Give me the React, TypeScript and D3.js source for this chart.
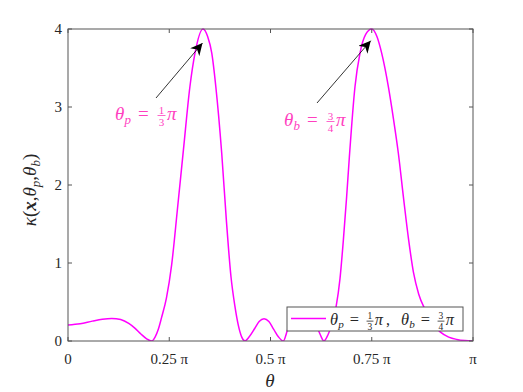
import React from 'react';
import * as d3 from 'd3';

// theta in units of pi, kappa values
const thetaPi = [
  0, 0.03, 0.06, 0.085, 0.108, 0.13, 0.15, 0.165, 0.18, 0.195, 0.2067,
  0.215, 0.223, 0.231, 0.243, 0.256, 0.27, 0.285, 0.301, 0.3136, 0.3333,
  0.345, 0.355, 0.365, 0.3795, 0.391, 0.4025, 0.412, 0.4206, 0.429, 0.437,
  0.447, 0.461, 0.472, 0.484, 0.496, 0.508, 0.52, 0.5316,
  0.542, 0.556, 0.582, 0.606, 0.614, 0.623, 0.632,
  0.642, 0.652, 0.662, 0.6716, 0.68, 0.688, 0.6946, 0.7086, 0.721, 0.735, 0.75,
  0.763, 0.7745, 0.791, 0.8035, 0.8156, 0.829, 0.841, 0.853, 0.866, 0.884, 0.9,
  0.918, 0.94, 0.96, 0.98, 1,
];
const kappa = [
  0.205, 0.22, 0.255, 0.28, 0.29, 0.275, 0.225, 0.165, 0.09, 0.025, 0,
  0.05, 0.15, 0.3, 0.55, 0.98, 1.68, 2.45, 3.26, 3.69, 4,
  3.9, 3.69, 3.26, 2.41, 1.55, 0.82, 0.45, 0.2, 0.05, 0,
  0.05, 0.16, 0.25, 0.286, 0.25, 0.15, 0.05, 0,
  0.14, 0.3, 0.4, 0.3, 0.2, 0.08, 0,
  0.08, 0.22, 0.44, 0.8, 1.3, 1.85, 2.35, 3.26, 3.69, 3.93, 4,
  3.9, 3.69, 3.26, 2.85, 2.41, 1.81, 1.3, 0.88, 0.6, 0.38, 0.22,
  0.12, 0.05, 0.02, 0.005, 0,
];
const xTicks = [0, 0.25, 0.5, 0.75, 1];
const xTickLabels = ['0', '0.25 \u03c0', '0.5 \u03c0', '0.75 \u03c0', '\u03c0'];
const yTicks = [0, 1, 2, 3, 4];

const W = 523;
const H = 392;
const SERIF = 'Liberation Serif, Times New Roman, serif';
const AXIS = '#555';
const TXT = '#262626';
const CURVE = '#ff00ff';
const NOTE = '#ff3fbf';

// theta_s = num/den pi, laid out like the LaTeX render
const ThetaEq = ({ x, y, sub, num, den, color, s = 1 }) => (
  <g style={{ fontFamily: SERIF }} fill={color}>
    <text x={x} y={y} fontSize={19 * s} fontStyle="italic">θ</text>
    <text x={x + 9.5 * s} y={y + 4 * s} fontSize={13 * s} fontStyle="italic">{sub}</text>
    <text x={x + 23 * s} y={y} fontSize={19 * s}>=</text>
    <text x={x + 46.5 * s} y={y - 6.5 * s} fontSize={11 * s} textAnchor="middle">{num}</text>
    <line x1={x + 42.5 * s} x2={x + 50.5 * s} y1={y - 4.5 * s} y2={y - 4.5 * s} stroke={color} strokeWidth={0.8} />
    <text x={x + 46.5 * s} y={y + 6 * s} fontSize={11 * s} textAnchor="middle">{den}</text>
    <text x={x + 52 * s} y={y} fontSize={19 * s} fontStyle="italic">π</text>
  </g>
);

const App = () => {
  const margin = { top: 29, right: 50, bottom: 51, left: 68 };
  const x = d3.scaleLinear().domain([0, 1]).range([margin.left, W - margin.right]);
  const y = d3.scaleLinear().domain([0, 4]).range([H - margin.bottom, margin.top]);
  const pts = thetaPi.map((t, i) => [t, kappa[i]]);
  const line = d3.line()
    .x(d => x(d[0]))
    .y(d => y(d[1]))
    .curve(d3.curveMonotoneX);

  const x0 = x(0), x1 = x(1), y0 = y(0), y1 = y(4);
  const tk = 4;

  return (
    <svg width={W} height={H} style={{ position: 'absolute', left: 0, top: 0, background: '#fff', fontFamily: SERIF }}>
      <defs>
        <marker id="arr" viewBox="0 0 10 10" refX="10" refY="5" markerWidth="12" markerHeight="12"
          markerUnits="userSpaceOnUse" orient="auto">
          <path d="M0,0 L10,5 L0,10 L3,5 Z" fill="#000" />
        </marker>
        <clipPath id="plot">
          <rect x={x0} y={y1 - 2} width={x1 - x0} height={y0 - y1 + 2} />
        </clipPath>
      </defs>
      <rect width={W} height={H} fill="#fff" />

      {/* curve */}
      <path d={line(pts)} fill="none" stroke={CURVE} strokeWidth={1.5} clipPath="url(#plot)" />

      {/* axes box */}
      <rect x={x0} y={y1} width={x1 - x0} height={y0 - y1} fill="none" stroke={AXIS} strokeWidth={1} />
      {xTicks.map((t, i) => (
        <g key={'x' + i}>
          <line x1={x(t)} x2={x(t)} y1={y0} y2={y0 - tk} stroke={AXIS} />
          <line x1={x(t)} x2={x(t)} y1={y1} y2={y1 + tk} stroke={AXIS} />
          <text x={x(t)} y={364} textAnchor="middle" fontSize={15} fill={TXT}>
            {xTickLabels[i]}
          </text>
        </g>
      ))}
      {yTicks.map((t, i) => (
        <g key={'y' + i}>
          <line x1={x0} x2={x0 + tk} y1={y(t)} y2={y(t)} stroke={AXIS} />
          <line x1={x1} x2={x1 - tk} y1={y(t)} y2={y(t)} stroke={AXIS} />
          <text x={62} y={y(t) + 5} textAnchor="end" fontSize={15} fill={TXT}>{t}</text>
        </g>
      ))}

      {/* axis labels */}
      <text x={270} y={387} textAnchor="middle" fontSize={19} fontStyle="italic" fill={TXT}>θ</text>
      <text transform="translate(36,190) rotate(-90)" textAnchor="middle" fontSize={19} fill={TXT}>
        <tspan fontStyle="italic">κ</tspan>(<tspan fontStyle="italic" fontWeight="bold">x</tspan>,
        <tspan fontStyle="italic">θ</tspan><tspan fontSize={13} dy={4} fontStyle="italic">p</tspan>
        <tspan dy={-4}>,</tspan><tspan fontStyle="italic">θ</tspan>
        <tspan fontSize={13} dy={4} fontStyle="italic">b</tspan><tspan dy={-4}>)</tspan>
      </text>

      {/* annotations */}
      <line x1={156} y1={98} x2={x(1 / 3) - 0.5} y2={y(3.82)} stroke="#000" strokeWidth={0.8} markerEnd="url(#arr)" />
      <line x1={317} y1={103} x2={x(0.75) - 1} y2={y(3.85)} stroke="#000" strokeWidth={0.8} markerEnd="url(#arr)" />
      <ThetaEq x={115} y={120} sub="p" num="1" den="3" color={NOTE} />
      <ThetaEq x={284} y={126} sub="b" num="3" den="4" color={NOTE} />

      {/* legend */}
      <rect x={287} y={307} width={176} height={24} fill="#fff" stroke={AXIS} strokeWidth={1} />
      <line x1={291} x2={326} y1={318.5} y2={318.5} stroke={CURVE} strokeWidth={1.5} />
      <ThetaEq x={330} y={325} sub="p" num="1" den="3" color={TXT} s={0.86} />
      <text x={386} y={325} fontSize={16} fill={TXT}>,</text>
      <ThetaEq x={401} y={325} sub="b" num="3" den="4" color={TXT} s={0.86} />
    </svg>
  );
};

export default App;
